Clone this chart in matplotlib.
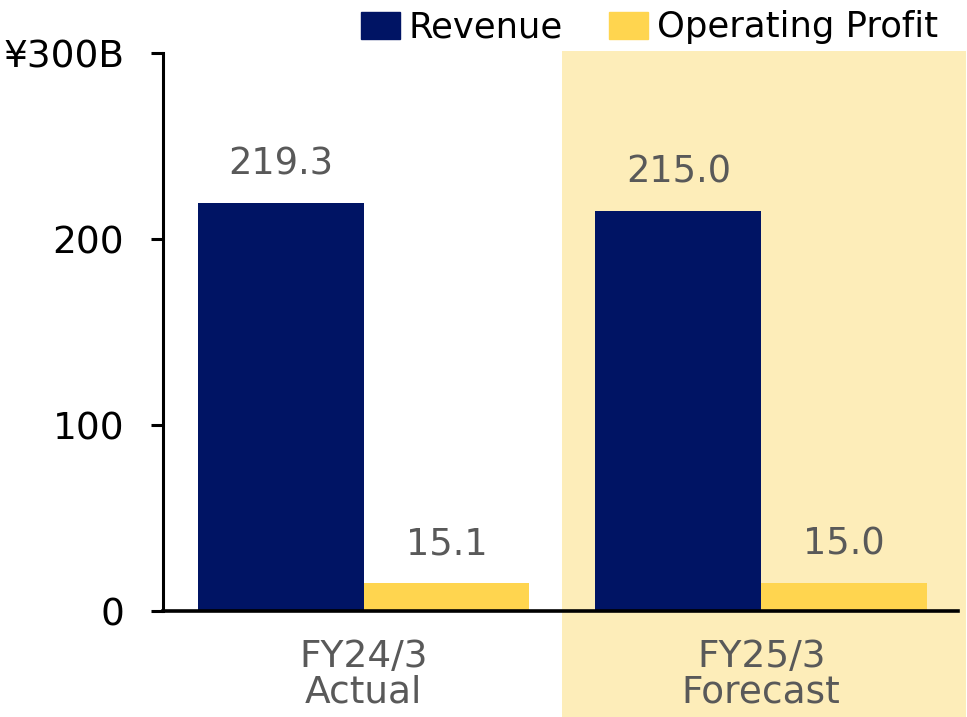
import matplotlib.pyplot as plt
from matplotlib.patches import Patch

plt.rcParams["font.family"] = ["DejaVu Sans"]

# Data (billions of yen)
periods = ['FY24/3\nActual', 'FY25/3\nForecast']
revenue = [219.3, 215.0]
op_profit = [15.1, 15.0]
yticks = [0, 100, 200, 300]
ytick_labels = ['0', '100', '200', '¥300B']

navy = '#001464'
yellow = '#FFD54F'
shade = '#FDEDB9'
grey = '#595959'

fig = plt.figure(figsize=(9.67, 7.17), dpi=100)
ax = fig.add_axes([163 / 967, (717 - 611) / 717, (958 - 163) / 967, (611 - 53) / 717])

# forecast highlight reaches down to the bottom of the figure
ax.axvspan(0.5, 1.515, ymin=-0.2, ymax=1.003, color=shade, zorder=0, clip_on=False, lw=0)

x = [0, 1]
w = 0.417
rev_bars = ax.bar([i - w / 2 for i in x], revenue, width=w, color=navy, zorder=2)
op_bars = ax.bar([i + w / 2 for i in x], op_profit, width=w, color=yellow, zorder=2)

for bars, vals in [(rev_bars, revenue), (op_bars, op_profit)]:
    for b, v in zip(bars, vals):
        ax.text(b.get_x() + b.get_width() / 2, v + 11, f'{v:.1f}',
                ha='center', va='bottom', fontsize=26.5, color=grey)

ax.set_xlim(-0.5 - 0.005, 1.5 - 0.005)
ax.set_ylim(0, 300)
ax.set_yticks(yticks)
ax.set_yticklabels(ytick_labels, fontsize=27)
ax.set_xticks(x)
ax.set_xticklabels(periods, fontsize=27, color=grey, linespacing=1.0)

for s in ['top', 'right']:
    ax.spines[s].set_visible(False)
ax.spines['left'].set_linewidth(2.2)
ax.spines['bottom'].set_linewidth(2.6)
ax.tick_params(axis='y', length=9, width=2.2, pad=19)
ax.tick_params(axis='x', length=0, pad=20)

handles = [Patch(color=navy, label='Revenue'), Patch(color=yellow, label='Operating Profit')]
fig.legend(handles=handles, loc='upper right', bbox_to_anchor=(1.003, 1.03), ncol=2,
           frameon=False, handlelength=1.1, handleheight=0.8, handletextpad=0.25,
           columnspacing=1.3, prop={'size': 25.5})

fig.savefig('out.png', dpi=100)
